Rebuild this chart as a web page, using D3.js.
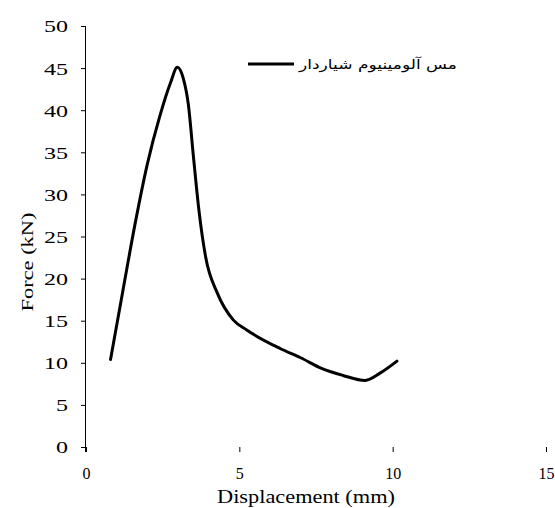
<!DOCTYPE html>
<html><head><meta charset="utf-8">
<script src="https://cdn.jsdelivr.net/npm/d3@7"></script>
<style>body{margin:0;background:#fff}svg{display:block}</style>
</head><body>
<script>
const dispValues = [0.80, 1.2, 1.6, 2.0, 2.4, 2.75, 2.98, 3.17, 3.34, 3.5, 3.68, 3.9, 4.28, 4.8, 5.24, 6.33, 7.0, 7.7, 8.38, 9.1, 9.6, 10.14];
const forceValues = [10.4, 18.5, 26.5, 33.6, 39.2, 43.2, 45.1, 43.8, 40.6, 34.6, 28.2, 22.6, 18.3, 15.1, 13.9, 11.7, 10.6, 9.3, 8.5, 7.9, 8.8, 10.2];
const xTicks = [0, 5, 10, 15];
const yTicks = [0, 5, 10, 15, 20, 25, 30, 35, 40, 45, 50];
const seriesName = "مس آلومینیوم شیاردار";
const xTitle = "Displacement (mm)";
const yTitle = "Force (kN)";

const W = 555, H = 508;
const svg = d3.select("body").append("svg").attr("width", W).attr("height", H);
const x = d3.scaleLinear().domain([0, 15]).range([86, 546]);
const y = d3.scaleLinear().domain([0, 50]).range([447, 26]);
const serif = "'Liberation Serif','Times New Roman',serif";

// y axis
const ya = svg.append("g").attr("transform", `translate(${x(0)},0)`)
  .call(d3.axisLeft(y).tickValues(yTicks).tickSize(5).tickPadding(0).tickFormat(d3.format("d")));
ya.select(".domain").attr("d", `M-0.5,${y(50)}V452`).attr("stroke", "#000");
ya.selectAll(".tick line").attr("x2", -5).attr("stroke", "#000");
ya.selectAll(".tick text").attr("x", -18).attr("dy", "0.35em")
  .attr("font-family", serif).attr("font-size", 17).attr("fill", "#000")
  .attr("textLength", d => String(d).length * 12).attr("lengthAdjust", "spacingAndGlyphs");

// x axis (ticks only, no domain line)
const xa = svg.append("g").attr("transform", `translate(0,${y(0)})`)
  .call(d3.axisBottom(x).tickValues(xTicks).tickSize(5).tickPadding(0).tickFormat(d3.format("d")));
xa.select(".domain").remove();
xa.selectAll(".tick line").attr("stroke", "#000");
xa.selectAll(".tick text").attr("y", 32).attr("dy", 0)
  .attr("font-family", serif).attr("font-size", 17).attr("fill", "#000")
  .attr("textLength", d => String(d).length * 8).attr("lengthAdjust", "spacingAndGlyphs");

// axis titles
svg.append("text").attr("x", 306).attr("y", 503).attr("text-anchor", "middle")
  .attr("font-family", serif).attr("font-size", 18).attr("fill", "#000")
  .attr("textLength", 178).attr("lengthAdjust", "spacingAndGlyphs").text(xTitle);
svg.append("text").attr("transform", "translate(33,262) rotate(-90)").attr("text-anchor", "middle")
  .attr("font-family", serif).attr("font-size", 17).attr("fill", "#000")
  .attr("textLength", 99).attr("lengthAdjust", "spacingAndGlyphs").text(yTitle);

// curve
const data = dispValues.map((d, i) => [d, forceValues[i]]);
svg.append("path").datum(data)
  .attr("d", d3.line().x(d => x(d[0])).y(d => y(d[1])).curve(d3.curveMonotoneX))
  .attr("fill", "none").attr("stroke", "#000").attr("stroke-width", 3).attr("stroke-linejoin", "round").attr("stroke-linecap", "round");

// legend
svg.append("line").attr("x1", 248).attr("x2", 294).attr("y1", 64).attr("y2", 64)
  .attr("stroke", "#000").attr("stroke-width", 3);
svg.append("text").attr("x", 457).attr("y", 69).attr("text-anchor", "end")
  .attr("font-family", "'DejaVu Sans','Noto Sans',sans-serif").attr("font-size", 13).attr("fill", "#000")
  .attr("textLength", 158).attr("lengthAdjust", "spacingAndGlyphs").text(seriesName);
</script>
</body></html>
